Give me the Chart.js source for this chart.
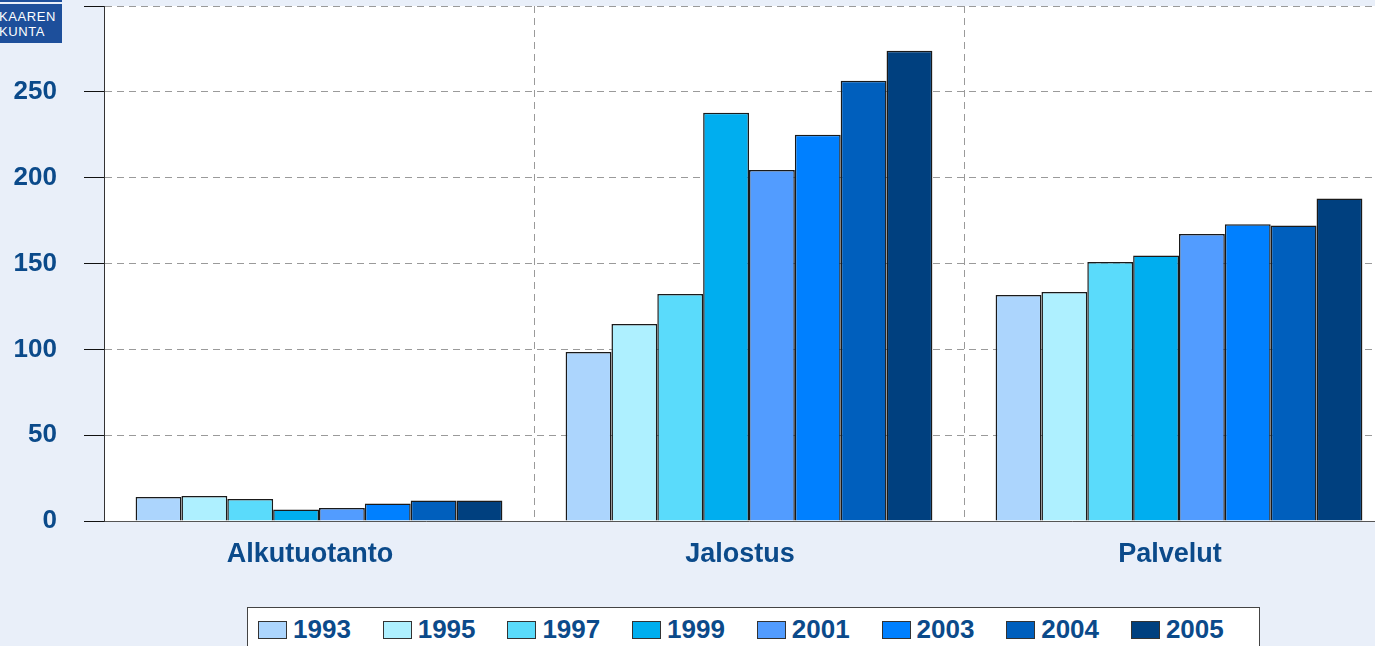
<!DOCTYPE html>
<html lang="fi">
<head>
<meta charset="UTF-8">
<title>Työpaikat toimialoittain</title>
<script src="https://cdn.jsdelivr.net/npm/chart.js"></script>
<style>
    html, body { margin: 0; padding: 0; overflow: hidden; width: 1375px; height: 646px; background: #e9eff9; }
    body { position: relative; font-family: "Liberation Sans", Arial, sans-serif; }
    #wrap { position: absolute; left: 0; top: 0; width: 1394px; height: 646px; }
    .logo-top { position: absolute; left: 0; top: 0; width: 62px; height: 2px; background: #1d4f9b; }
    .logo { position: absolute; left: 0; top: 4px; width: 62px; height: 39px; background: #1d4f9b; color: #fff;
            font-size: 13px; line-height: 15px; letter-spacing: 0.6px; padding-top: 5px; box-sizing: border-box; overflow: hidden; }
    .logo div { margin-left: -1px; }
    #legend { position: absolute; left: 247px; top: 607px; width: 1013px; height: 60px; background: #fff;
              border: 1px solid #444; box-sizing: border-box; }
    .item { position: absolute; top: 12px; height: 19px; display: flex; align-items: center; }
    .sw { width: 27px; height: 16px; border: 1px solid #333; margin-right: 6px; }
    .lt { font-weight: bold; font-size: 26px; color: #0b4a8a; line-height: 19px; }
</style>
</head>
<body>
<div id="wrap"><canvas id="chart" width="1394" height="646"></canvas></div>
<div class="logo-top"></div>
<div class="logo"><div>KAAREN</div><div>KUNTA</div></div>
<div id="legend"></div>

<script>
// toimialat ja vuodet
const categories = ["Alkutuotanto", "Jalostus", "Palvelut"];
const years = ["1993", "1995", "1997", "1999", "2001", "2003", "2004", "2005"];

// arvot luettu kuvasta (Alkutuotanto, Jalostus, Palvelut)
const v1993 = [14, 98.5, 131.7];
const v1995 = [14.6, 114.8, 133.4];
const v1997 = [12.8, 132.3, 150.9];
const v1999 = [6.7, 237.8, 154.7];
const v2001 = [7.6, 204.5, 167.2];
const v2003 = [10.2, 225, 172.8];
const v2004 = [12, 256.4, 172.2];
const v2005 = [12, 273.9, 187.9];

const yMax = 300;
const yStep = 50;

const colors = ["#acd5fd", "#aef0ff", "#5adbfb", "#00aeef", "#529cff", "#0080ff", "#005fbd", "#00407f"];
const textColor = "#0b4a8a";

const seriesValues = [v1993, v1995, v1997, v1999, v2001, v2003, v2004, v2005];

const plotBg = {
    id: "plotBg",
    beforeDraw(chart) {
        const a = chart.chartArea, ctx = chart.ctx;
        ctx.save();
        ctx.fillStyle = "#e9eff9";
        ctx.fillRect(0, 0, chart.width, chart.height);
        ctx.fillStyle = "#ffffff";
        ctx.fillRect(a.left, a.top, a.right - a.left, a.bottom - a.top);
        ctx.restore();
    }
};

new Chart(document.getElementById("chart"), {
    type: "bar",
    data: {
        labels: categories,
        datasets: years.map((y, i) => ({
            label: y,
            data: seriesValues[i],
            backgroundColor: colors[i],
            borderColor: "#1a1a1a",
            borderWidth: 1.5,
            barPercentage: 1,
            categoryPercentage: 0.853
        }))
    },
    options: {
        responsive: false,
        animation: false,
        layout: { padding: { top: 6, left: 0, right: 0, bottom: 0 } },
        plugins: { legend: { display: false }, tooltip: { enabled: false } },
        scales: {
            x: {
                afterFit(scale) {
                    scale.height = 125;
                    scale.paddingLeft = 0;
                    scale.paddingRight = 0;
                },
                grid: {
                    color: ctx => ctx.index === 0 ? "rgba(0,0,0,0)" : "#9a9a9a",
                    drawTicks: false,
                    lineWidth: 1
                },
                border: { color: "#555", width: 1, dash: [7, 5] },
                ticks: {
                    padding: 17,
                    labelOffset: -9,
                    color: textColor,
                    font: { family: "Liberation Sans", size: 27, weight: "bold" }
                }
            },
            y: {
                min: 0,
                max: yMax,
                afterFit(scale) {
                    scale.width = 104;
                    scale.paddingTop = 0;
                    scale.paddingBottom = 0;
                },
                grid: {
                    color: ctx => ctx.index === 0 ? "rgba(0,0,0,0)" : "#9a9a9a",
                    tickColor: "#111",
                    tickLength: 20,
                    tickWidth: 1
                },
                border: { color: "#333", width: 1, dash: [7, 5] },
                ticks: {
                    stepSize: yStep,
                    padding: 27,
                    color: textColor,
                    font: { family: "Liberation Sans", size: 26, weight: "bold" },
                    callback: v => v === yMax ? "" : v
                }
            }
        }
    },
    plugins: [plotBg]
});

// selite
const legend = document.getElementById("legend");
years.forEach((y, i) => {
    const it = document.createElement("div");
    it.className = "item";
    it.style.left = (10 + i * 124.7) + "px";
    it.innerHTML = '<span class="sw" style="background:' + colors[i] + '"></span><span class="lt">' + y + '</span>';
    legend.appendChild(it);
});
</script>
</body>
</html>
